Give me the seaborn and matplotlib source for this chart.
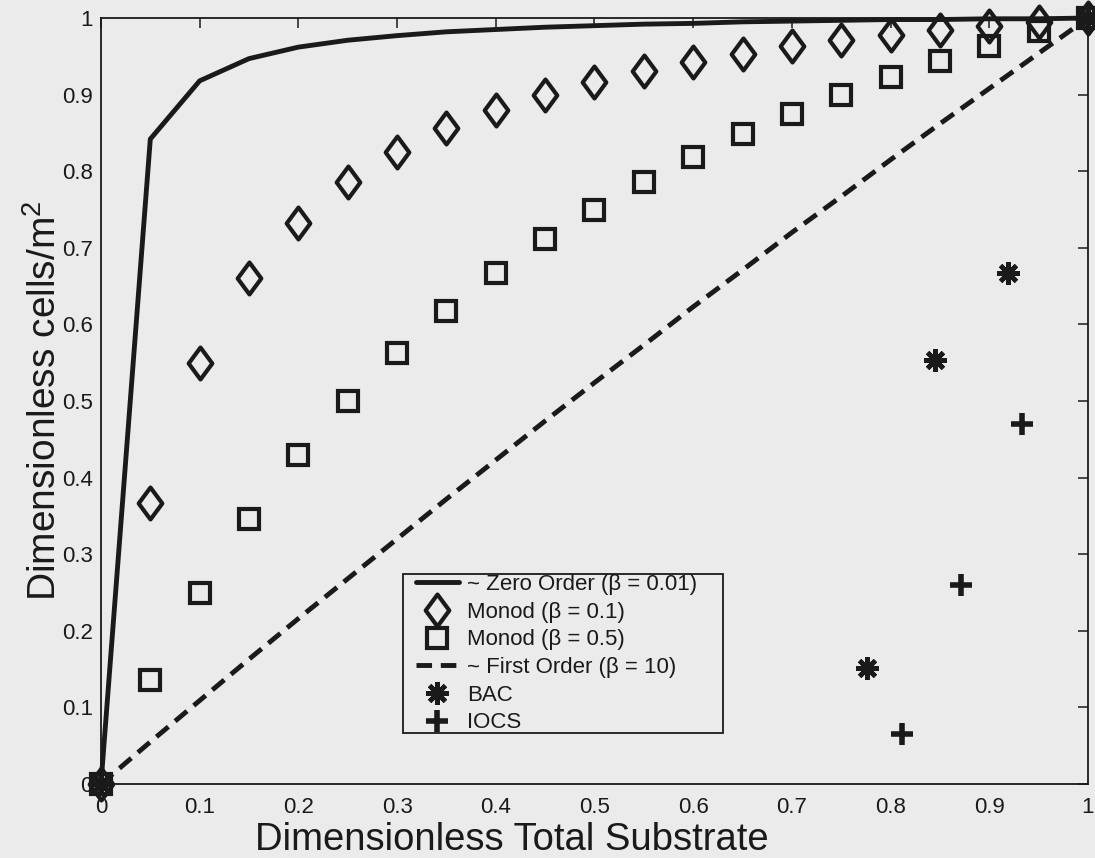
import matplotlib
matplotlib.use("Agg")
import matplotlib.pyplot as plt
from matplotlib.path import Path
from matplotlib.lines import Line2D
from matplotlib.legend_handler import HandlerLine2D
import seaborn as sns

# Dimensionless substrate levels at which the kinetic models are evaluated
substrate = [0.00, 0.05, 0.10, 0.15, 0.20, 0.25, 0.30, 0.35, 0.40, 0.45, 0.50,
             0.55, 0.60, 0.65, 0.70, 0.75, 0.80, 0.85, 0.90, 0.95, 1.00]

# Dimensionless biomass (cells/m^2) for each kinetic regime
zero_order = [0.000, 0.842, 0.918, 0.947, 0.962, 0.971, 0.977, 0.982, 0.985, 0.988, 0.990,
              0.992, 0.993, 0.995, 0.996, 0.997, 0.998, 0.998, 0.999, 0.999, 1.000]
monod_01 = [0.000, 0.367, 0.550, 0.660, 0.733, 0.786, 0.825, 0.856, 0.880, 0.900, 0.917,
            0.931, 0.943, 0.953, 0.963, 0.971, 0.978, 0.984, 0.990, 0.995, 1.000]
monod_05 = [0.000, 0.136, 0.250, 0.346, 0.429, 0.500, 0.563, 0.618, 0.667, 0.711, 0.750,
            0.786, 0.818, 0.848, 0.875, 0.900, 0.923, 0.944, 0.964, 0.983, 1.000]
first_order = [0.000, 0.055, 0.109, 0.163, 0.216, 0.268, 0.320, 0.372, 0.423, 0.474, 0.524,
               0.573, 0.623, 0.671, 0.720, 0.767, 0.815, 0.862, 0.908, 0.954, 1.000]

# Measured filter data
bac_x = [0.000, 0.776, 0.845, 0.919, 1.000]
bac_y = [0.000, 0.152, 0.553, 0.667, 1.000]
iocs_x = [0.000, 0.812, 0.871, 0.933, 1.000]
iocs_y = [0.000, 0.065, 0.260, 0.470, 1.000]

series_labels = ["~ Zero Order (β = 0.01)", "Monod (β = 0.1)", "Monod (β = 0.5)",
                 "~ First Order (β = 10)", "BAC", "IOCS"]
tick_values = [0, 0.1, 0.2, 0.3, 0.4, 0.5, 0.6, 0.7, 0.8, 0.9, 1]
tick_labels = ["0", "0.1", "0.2", "0.3", "0.4", "0.5", "0.6", "0.7", "0.8", "0.9", "1"]

sns.set_theme(style="white")
plt.rcParams["font.family"] = ["Liberation Sans", "DejaVu Sans"]
plt.rcParams["mathtext.fontset"] = "custom"
plt.rcParams["mathtext.rm"] = "Liberation Sans"
plt.rcParams["mathtext.it"] = "Liberation Sans:italic"

ink = "#1a1a1a"
paper = "#ebebeb"

fig = plt.figure(figsize=(10.95, 8.58), dpi=100, facecolor=paper)
ax = fig.add_axes([0.0922, 0.0862, 0.9014, 0.8928], facecolor=paper)

# Tall diamond marker (narrower than it is high)
tall_diamond = Path([(0, 1), (0.74, 0), (0, -1), (-0.74, 0), (0, 1)],
                    [Path.MOVETO, Path.LINETO, Path.LINETO, Path.LINETO, Path.CLOSEPOLY])

sns.lineplot(x=substrate, y=zero_order, ax=ax, color=ink, lw=3.5,
             label=series_labels[0], sort=False, clip_on=False, zorder=3)
sns.lineplot(x=substrate, y=monod_01, ax=ax, color=ink, linestyle="none",
             marker=tall_diamond, markersize=23, markerfacecolor="none",
             markeredgecolor=ink, markeredgewidth=3.0,
             label=series_labels[1], sort=False, clip_on=False, zorder=4)
sns.lineplot(x=substrate, y=monod_05, ax=ax, color=ink, linestyle="none",
             marker="s", markersize=14, markerfacecolor="none",
             markeredgecolor=ink, markeredgewidth=3.0,
             label=series_labels[2], sort=False, clip_on=False, zorder=4)
sns.lineplot(x=substrate, y=first_order, ax=ax, color=ink, lw=3.5,
             linestyle=(0, (3.2, 1.8)),
             label=series_labels[3], sort=False, clip_on=False, zorder=3)
sns.lineplot(x=bac_x, y=bac_y, ax=ax, color=ink, linestyle="none",
             marker=(8, 2, 0), markersize=16, markeredgecolor=ink, markeredgewidth=3.4,
             label=series_labels[4], sort=False, clip_on=False, zorder=5)
sns.lineplot(x=iocs_x, y=iocs_y, ax=ax, color=ink, linestyle="none",
             marker="+", markersize=16, markeredgecolor=ink, markeredgewidth=4.0,
             label=series_labels[5], sort=False, clip_on=False, zorder=5)

ax.set_xlim(0, 1)
ax.set_ylim(0, 1)
ax.set_xticks(tick_values)
ax.set_xticklabels(tick_labels)
ax.set_yticks(tick_values)
ax.set_yticklabels(tick_labels)
ax.tick_params(axis="both", direction="in", length=7, width=1.1, color=ink,
               labelsize=16, labelcolor=ink, top=True, right=True)
ax.tick_params(axis="x", pad=9)
ax.tick_params(axis="y", pad=6)
for spine in ax.spines.values():
    spine.set_visible(True)
    spine.set_color(ink)
    spine.set_linewidth(1.3)

ax.set_xlabel("Dimensionless Total Substrate", fontsize=27.5, color=ink)
ax.set_ylabel("Dimensionless cells/m$^2$", fontsize=28, color=ink)
ax.xaxis.set_label_coords(0.416, -0.050)
ax.yaxis.set_label_coords(-0.038, 0.5)

# Legend: tight vertical padding, handle samples inset from the frame's left edge
leg = ax.legend(loc="lower left", bbox_to_anchor=(0.306, 0.066, 0.324, 0.209),
                mode="expand", borderaxespad=0,
                fontsize=16, frameon=True, fancybox=False, framealpha=1,
                facecolor=paper, edgecolor=ink, borderpad=0.0, labelspacing=0.30,
                handlelength=2.52, handletextpad=0.36, numpoints=1,
                handler_map={Line2D: HandlerLine2D(xpad=0.585, numpoints=1)})
leg.get_frame().set_linewidth(1.3)
for t in leg.get_texts():
    t.set_color(ink)

fig.savefig("out.png", dpi=100, facecolor=paper)
